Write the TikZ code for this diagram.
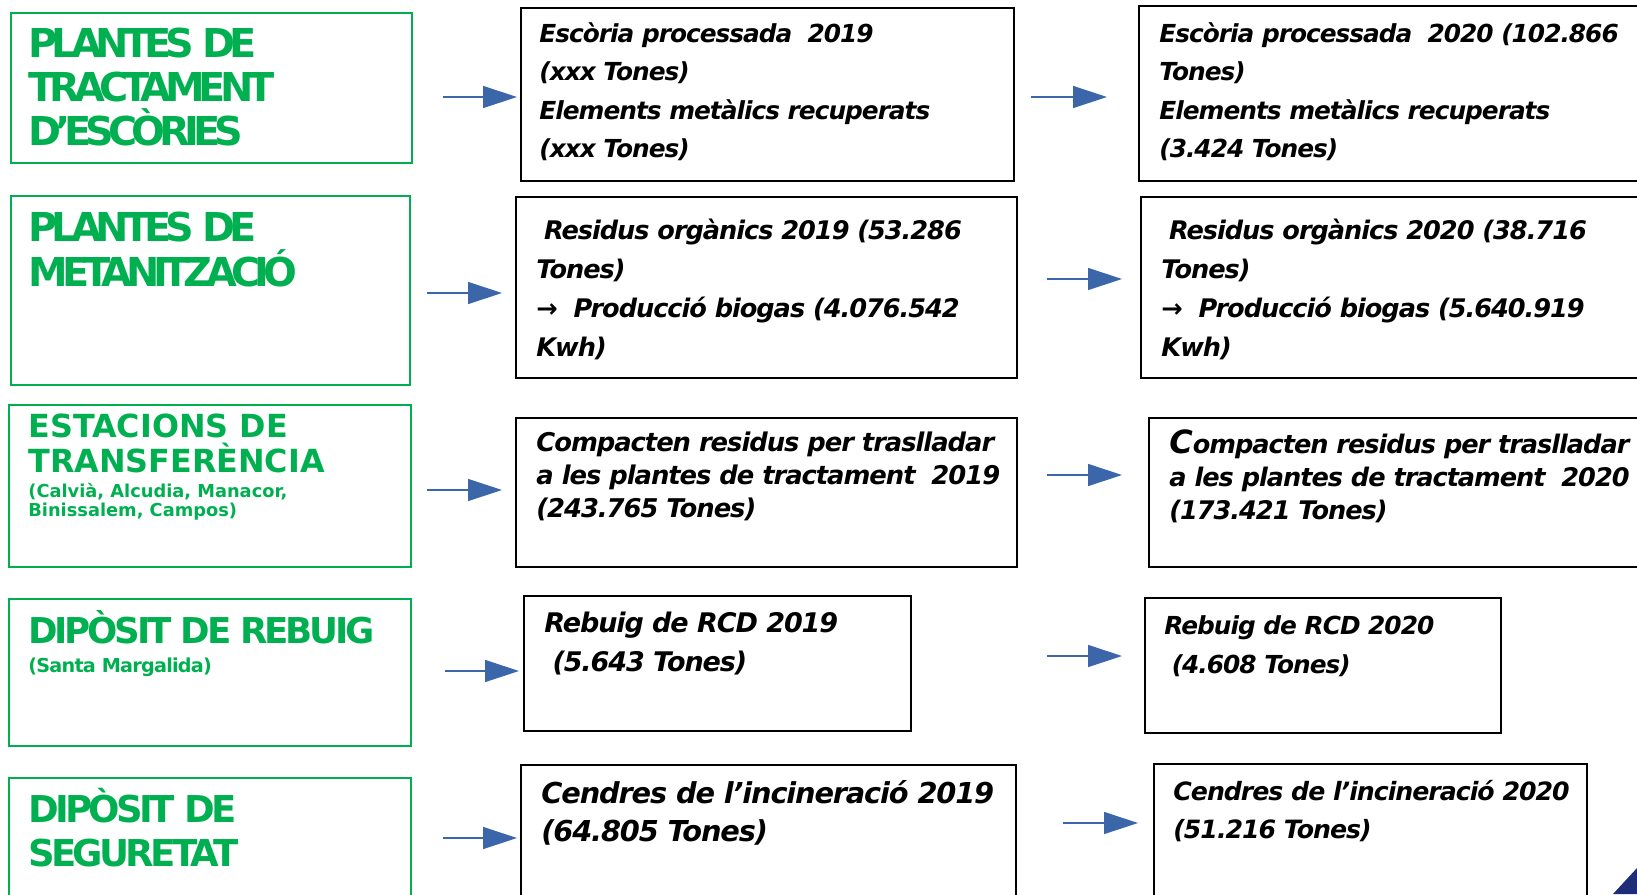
\documentclass[tikz,border=0pt]{standalone}
\usepackage{fontspec}
\usepackage{tikz}
\usetikzlibrary{arrows.meta, positioning}
\setmainfont{DejaVu Sans}
\definecolor{popgreen}{RGB}{0, 176, 80}
\definecolor{arrblue}{RGB}{59, 102, 170}
\definecolor{cornernavy}{RGB}{31, 45, 120}
\newcommand{\topstrut}{\rule{0pt}{1em}}
\newcommand{\tightby}[1]{\addfontfeatures{LetterSpace=#1}}

\begin{document}
\begin{tikzpicture}[
  x=0.5pt, y=-0.5pt,
  gbox/.style={draw=popgreen, line width=0.75pt, anchor=north west, inner sep=0pt},
  kbox/.style={draw=black, line width=0.8pt, anchor=north west, inner sep=0pt},
  gtitle/.style={anchor=north west, inner sep=0pt, align=left, text=popgreen},
  ktext/.style={anchor=north west, inner sep=0pt, align=left},
  arr/.style={draw=arrblue, line width=0.65pt, -{Triangle[length=17pt, width=11pt]}}
]
  \useasboundingbox (0,0) rectangle (1637,894);
  \clip (0,0) rectangle (1637,894);

  % left column
  \node[gbox, minimum width=200.5pt, minimum height=75pt] (l1) at (10,12) {};
  \node[gbox, minimum width=199.5pt, minimum height=94.5pt] (l2) at (10,195) {};
  \node[gbox, minimum width=201pt, minimum height=81pt] (l3) at (8,404) {};
  \node[gbox, minimum width=201pt, minimum height=73.5pt] (l4) at (8,598) {};
  \node[gbox, minimum width=201pt, minimum height=64pt] (l5) at (8,777) {};

  \node[gtitle, font=\fontsize{19.9}{22}\selectfont\bfseries\tightby{-15}] (l1t) at (28,17.2)
    {\topstrut PLANTES DE\\TRACTAMENT\\D’ESCÒRIES};
  \node[gtitle, font=\fontsize{19.9}{22.5}\selectfont\bfseries\tightby{-15}] (l2t) at (28,201.2)
    {\topstrut PLANTES DE\\METANITZACIÓ};
  \node[gtitle, font=\fontsize{15.9}{17.5}\selectfont\bfseries] (l3t) at (28,405.2)
    {\topstrut ESTACIONS DE\\TRANSFERÈNCIA};
  \node[gtitle, font=\fontsize{8.9}{9.3}\selectfont\bfseries] (l3s) at (28,479.2)
    {\topstrut (Calvià, Alcudia, Manacor,\\Binissalem, Campos)};
  \node[gtitle, font=\fontsize{17.8}{20}\selectfont\bfseries\tightby{-9}] (l4t) at (28,607.4)
    {\topstrut DIPÒSIT DE REBUIG};
  \node[gtitle, font=\fontsize{9.6}{11}\selectfont\bfseries\tightby{-4}] (l4s) at (28,652.8)
    {\topstrut (Santa Margalida)};
  \node[gtitle, font=\fontsize{18.5}{22}\selectfont\bfseries\tightby{-10}] (l5t) at (28,785)
    {\topstrut DIPÒSIT DE\\SEGURETAT};

  % 2019 column
  \node[kbox, minimum width=246.5pt, minimum height=86.5pt] (m1) at (520,7) {};
  \node[kbox, minimum width=250.5pt, minimum height=90.5pt] (m2) at (515,196) {};
  \node[kbox, minimum width=250.5pt, minimum height=74.5pt] (m3) at (515,417) {};
  \node[kbox, minimum width=193.5pt, minimum height=67.5pt] (m4) at (523,595) {};
  \node[kbox, minimum width=247.5pt, minimum height=70.5pt] (m5) at (520,764) {};

  \node[ktext, font=\fontsize{12.4}{19.25}\selectfont\bfseries\itshape\tightby{-4}] (m1t) at (539,17.2)
    {\topstrut Escòria processada\ \ 2019\\(xxx Tones)\\Elements metàlics recuperats\\(xxx Tones)};
  \node[ktext, font=\fontsize{12.8}{19.5}\selectfont\bfseries\itshape\tightby{-4}] (m2t) at (536,213.4)
    {\topstrut\hspace*{0.3em}Residus orgànics 2019 (53.286\\Tones)\\→\ \ Producció biogas (4.076.542\\Kwh)};
  \node[ktext, font=\fontsize{12.9}{16.5}\selectfont\bfseries\itshape\tightby{-4}] (m3t) at (536,425.2)
    {\topstrut Compacten residus per traslladar\\a les plantes de tractament\ \ 2019\\(243.765 Tones)};
  \node[ktext, font=\fontsize{13.5}{19.5}\selectfont\bfseries\itshape\tightby{-4}] (m4t) at (544,605)
    {\topstrut Rebuig de RCD 2019\\\hspace*{0.3em}(5.643 Tones)};
  \node[ktext, font=\fontsize{14.4}{19}\selectfont\bfseries\itshape\tightby{-4}] (m5t) at (541,774.2)
    {\topstrut Cendres de l’incineració 2019\\(64.805 Tones)};

  % 2020 column
  \node[kbox, minimum width=256pt, minimum height=87.5pt] (r1) at (1138,5) {};
  \node[kbox, minimum width=255pt, minimum height=90.5pt] (r2) at (1140,196) {};
  \node[kbox, minimum width=251pt, minimum height=74.5pt] (r3) at (1148,417) {};
  \node[kbox, minimum width=178pt, minimum height=67.5pt] (r4) at (1144,597) {};
  \node[kbox, minimum width=216.5pt, minimum height=71pt] (r5) at (1153,763) {};

  \node[ktext, font=\fontsize{12.4}{19.25}\selectfont\bfseries\itshape\tightby{-4}] (r1t) at (1159,17.2)
    {\topstrut Escòria processada\ \ 2020 (102.866\\Tones)\\Elements metàlics recuperats\\(3.424 Tones)};
  \node[ktext, font=\fontsize{12.8}{19.5}\selectfont\bfseries\itshape\tightby{-4}] (r2t) at (1161,213.4)
    {\topstrut\hspace*{0.3em}Residus orgànics 2020 (38.716\\Tones)\\→\ \ Producció biogas (5.640.919\\Kwh)};
  \node[ktext, font=\fontsize{12.8}{16.5}\selectfont\bfseries\itshape\tightby{-4}] (r3t) at (1169,427.2)
    {\topstrut{\fontsize{16}{16}\selectfont C}ompacten residus per traslladar\\a les plantes de tractament\ \ 2020\\(173.421 Tones)};
  \node[ktext, font=\fontsize{12.4}{19.5}\selectfont\bfseries\itshape\tightby{-4}] (r4t) at (1164,609.2)
    {\topstrut Rebuig de RCD 2020\\\hspace*{0.3em}(4.608 Tones)};
  \node[ktext, font=\fontsize{12.6}{19}\selectfont\bfseries\itshape\tightby{-4}] (r5t) at (1173,774.8)
    {\topstrut Cendres de l’incineració 2020\\(51.216 Tones)};

  % arrows
  \coordinate (a1) at (443,97);   \coordinate (b1) at (517,97);
  \coordinate (c1) at (1031,97);  \coordinate (d1) at (1107,97);
  \coordinate (a2) at (427,293);  \coordinate (b2) at (502,293);
  \coordinate (c2) at (1047,279); \coordinate (d2) at (1122,279);
  \coordinate (a3) at (427,490);  \coordinate (b3) at (502,490);
  \coordinate (c3) at (1047,475); \coordinate (d3) at (1122,475);
  \coordinate (a4) at (445,671);  \coordinate (b4) at (519,671);
  \coordinate (c4) at (1047,656); \coordinate (d4) at (1122,656);
  \coordinate (a5) at (443,838);  \coordinate (b5) at (517,838);
  \coordinate (c5) at (1063,823); \coordinate (d5) at (1138,823);
  \draw[arr] (a1) -- (b1);
  \draw[arr] (c1) -- (d1);
  \draw[arr] (a2) -- (b2);
  \draw[arr] (c2) -- (d2);
  \draw[arr] (a3) -- (b3);
  \draw[arr] (c3) -- (d3);
  \draw[arr] (a4) -- (b4);
  \draw[arr] (c4) -- (d4);
  \draw[arr] (a5) -- (b5);
  \draw[arr] (c5) -- (d5);

  % corner mark
  \fill[cornernavy] (1613,894) -- (1637,868) -- (1637,894) -- cycle;
\end{tikzpicture}
\end{document}
